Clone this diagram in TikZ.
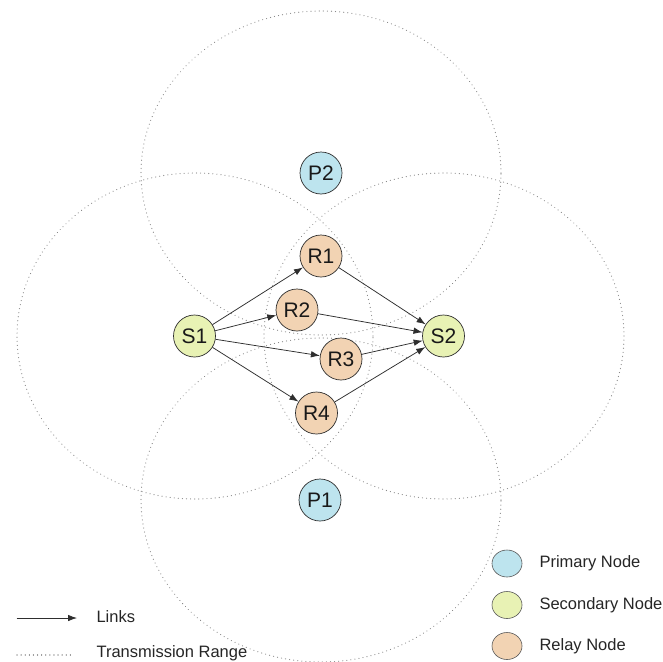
\documentclass[tikz,border=0pt]{standalone}
\usepackage{fontspec}
\setmainfont{Liberation Sans}
\usetikzlibrary{arrows.meta,shapes.geometric}
\definecolor{primcol}{HTML}{BDE4EE}
\definecolor{seccol}{HTML}{E8F2B4}
\definecolor{relcol}{HTML}{F2D3B3}
\definecolor{rangecol}{HTML}{8A8A8A}
\definecolor{edgecol}{HTML}{2E2E2E}
\tikzset{
  txrange/.style={draw=rangecol, line width=1.1pt, dash pattern=on 0.1pt off 4pt, line cap=round},
  netnode/.style={circle, draw=edgecol, line width=0.7pt, minimum size=42pt, inner sep=0pt, font=\fontsize{21}{21}\selectfont, text=black!90},
  prim/.style={netnode, fill=primcol},
  sec/.style={netnode, fill=seccol},
  rel/.style={netnode, fill=relcol},
  link/.style={draw=edgecol, line width=0.75pt, -{Latex[length=9pt,width=6.5pt]}},
  legtext/.style={anchor=west, font=\fontsize{16.5}{17}\selectfont, text=black!85},
  legcirc/.style={draw=edgecol!80, line width=0.6pt, ellipse, minimum width=30pt, minimum height=27pt, inner sep=0pt}
}
\begin{document}
\begin{tikzpicture}[x=1pt,y=-1pt]
\useasboundingbox (0,0) rectangle (663,661);
\fill[white] (0,0) rectangle (663,661);
% transmission ranges
\draw[txrange] (321,173) ellipse [x radius=180pt, y radius=162pt];
\draw[txrange] (195,336) ellipse [x radius=178pt, y radius=163pt];
\draw[txrange] (444,336) ellipse [x radius=180pt, y radius=163pt];
\draw[txrange] (321,500) ellipse [x radius=180pt, y radius=162pt];
% nodes
\node[prim] (P2) at (321,173) {P2};
\node[prim] (P1) at (320,500) {P1};
\node[sec] (S1) at (194.5,336) {S1};
\node[sec] (S2) at (443.5,336) {S2};
\node[rel] (R1) at (321,256) {R1};
\node[rel] (R2) at (297,310) {R2};
\node[rel] (R3) at (341,359) {R3};
\node[rel] (R4) at (316.5,413) {R4};
% links
\draw[link] (S1) -- (R1);
\draw[link] (S1) -- (R2);
\draw[link] (S1) -- (R3);
\draw[link] (S1) -- (R4);
\draw[link] (R1) -- (S2);
\draw[link] (R2) -- (S2);
\draw[link] (R3) -- (S2);
\draw[link] (R4) -- (S2);
% legend right
\node[legcirc, fill=primcol] (LP) at (507,563.5) {};
\node[legcirc, fill=seccol] (LS) at (507,605) {};
\node[legcirc, fill=relcol] (LR) at (507,646) {};
\node[legtext] (LPt) at (536,563.5) {Primary Node};
\node[legtext] (LSt) at (536,605) {Secondary Node};
\node[legtext] (LRt) at (536,646) {Relay Node};
% legend left
\coordinate (La) at (16.7,618);
\coordinate (Lb) at (77,618);
\draw[link] (La) -- (Lb);
\node[legtext] (Lt) at (93,617) {Links};
\coordinate (Ta) at (17,655);
\coordinate (Tb) at (73,655);
\draw[txrange] (Ta) -- (Tb);
\node[legtext] (Tt) at (93,653) {Transmission Range};
\end{tikzpicture}
\end{document}
